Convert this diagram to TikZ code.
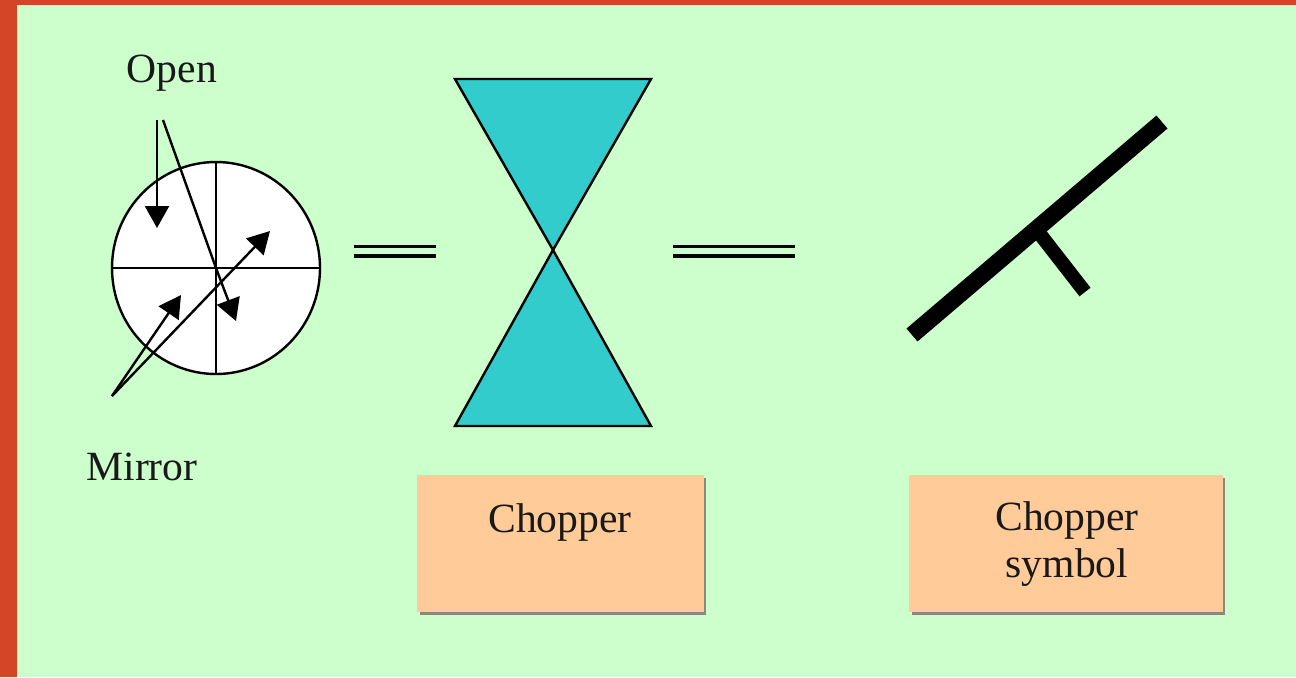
\documentclass[tikz,border=0pt]{standalone}
\usepackage{fontspec}
\setmainfont{Liberation Serif}
\usetikzlibrary{arrows.meta,shapes.geometric}
\definecolor{bgc}{HTML}{CCFFCC}
\definecolor{framec}{HTML}{D34526}
\definecolor{tealc}{HTML}{33CCCC}
\definecolor{boxc}{HTML}{FFCC99}
\definecolor{shadowc}{HTML}{8A8A7A}
\tikzset{
  px/.style={x=0.5pt,y=-0.5pt},
  lbl/.style={inner sep=0pt,font=\fontsize{20.8}{24}\selectfont,text=black!90},
  thin line/.style={draw=black,line width=1.2pt},
  arrowed/.style={thin line,-{Triangle[length=11pt,width=12pt]}},
  eqline/.style={draw=black,line width=1.8pt},
  labelbox/.style={fill=boxc},
  boxshadow/.style={fill=shadowc},
  symbolbar/.style={draw=black,line width=8.5pt},
  symbolstem/.style={draw=black,line width=7pt},
  discnode/.style={ellipse,thin line,fill=white,inner sep=0pt,outer sep=0pt,minimum width=104pt,minimum height=106pt}
}
\begin{document}
\begin{tikzpicture}[px]
\useasboundingbox (0,0) rectangle (1296,677);
\fill[framec] (0,0) rectangle (1296,677);
\fill[bgc] (17,5) rectangle (1296,677);
% mirror disc
\node[discnode] (disc) at (216,268) {};
\coordinate (c) at (216,268);
\draw[thin line] (disc.north) -- (disc.south);
\draw[thin line] (disc.west) -- (disc.east);
% open arrows
\coordinate (o1) at (157,120); \coordinate (o1e) at (157,228);
\coordinate (o2) at (163,120); \coordinate (o2e) at (236,321);
\draw[arrowed] (o1) -- (o1e);
\draw[thin line] (o2) -- (c);
\draw[arrowed] (c) -- (o2e);
% mirror arrows
\coordinate (m) at (112,396); \coordinate (m1e) at (181,295); \coordinate (m2e) at (270,231);
\draw[arrowed] (m) -- (m1e);
\draw[arrowed] (m) -- (m2e);
\node[lbl] (open) at (172,73) {Open};
\node[lbl] (mirror) at (142,467) {Mirror};
% equals
\coordinate (a1) at (354,246.5); \coordinate (a2) at (436,246.5);
\coordinate (a3) at (354,256); \coordinate (a4) at (436,256);
\draw[eqline] (a1) -- (a2); \draw[eqline] (a3) -- (a4);
\coordinate (b1) at (673,246.5); \coordinate (b2) at (795,246.5);
\coordinate (b3) at (673,256); \coordinate (b4) at (795,256);
\draw[eqline] (b1) -- (b2); \draw[eqline] (b3) -- (b4);
% chopper
\draw[thin line,fill=tealc,line join=miter] (455,79) -- (651,79) -- (553,250) -- cycle;
\draw[thin line,fill=tealc,line join=miter] (455,426) -- (651,426) -- (553,250) -- cycle;
% symbol
\coordinate (s1) at (912,335); \coordinate (s2) at (1162,122);
\coordinate (s3) at (1036,229); \coordinate (s4) at (1085,292);
\draw[symbolstem] (s3) -- (s4);
\draw[symbolbar] (s1) -- (s2);
% boxes
\fill[boxshadow] (420,478) rectangle (706,615);
\fill[labelbox] (417,475) rectangle (704,612);
\node[lbl] (chop) at (560,522) {Chopper};
\fill[boxshadow] (912,478) rectangle (1225,615);
\fill[labelbox] (909,475) rectangle (1223,612);
\node[lbl] (chop2) at (1067,520) {Chopper};
\node[lbl] (sym) at (1067,568) {symbol};
\end{tikzpicture}
\end{document}
